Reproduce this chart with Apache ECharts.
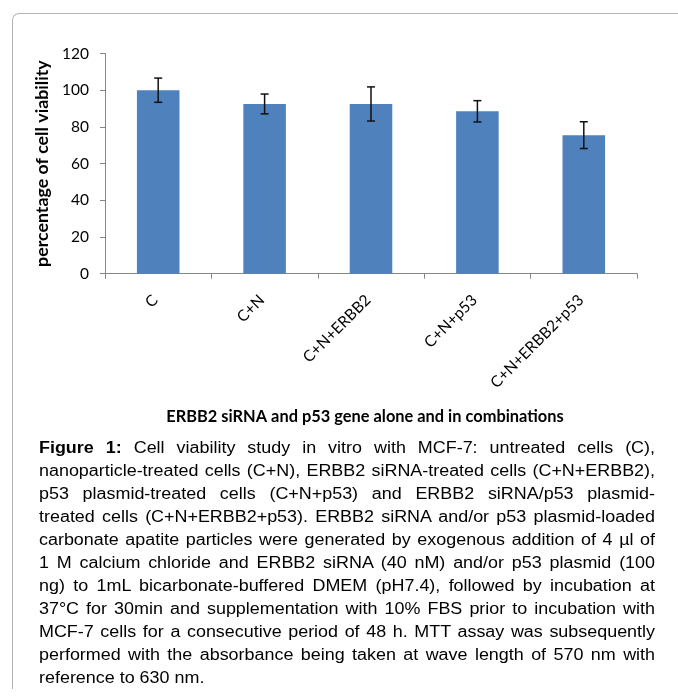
<!DOCTYPE html>
<html><head><meta charset="utf-8">
<script src="https://cdn.jsdelivr.net/npm/echarts@6/dist/echarts.min.js"></script>
<style>
html,body{margin:0;padding:0;background:#fff;}
#wrap{position:relative;width:678px;height:697px;overflow:hidden;}
#chart{position:absolute;left:0;top:0;width:678px;height:697px;}
#frame{position:absolute;left:12px;top:13px;width:700px;height:675px;border-top:1.3px solid #b4b4b4;border-left:1.3px solid #b4b4b4;border-top-left-radius:7px;}
#caption{position:absolute;left:39px;top:436px;width:550px;transform:scaleX(1.12);transform-origin:0 0;font-family:"Liberation Sans",Arial,sans-serif;font-size:16px;line-height:23px;color:#000;}
#caption div{text-align:justify;text-align-last:justify;}
#caption div.last{text-align-last:left;}
</style>
</head><body>
<div id="wrap">
<div id="frame"></div>
<div id="chart"></div>
<div id="caption">
<div><b>Figure 1:</b> Cell viability study in vitro with MCF-7: untreated cells (C),</div>
<div>nanoparticle-treated cells (C+N), ERBB2 siRNA-treated cells (C+N+ERBB2),</div>
<div>p53 plasmid-treated cells (C+N+p53) and ERBB2 siRNA/p53 plasmid-</div>
<div>treated cells (C+N+ERBB2+p53). ERBB2 siRNA and/or p53 plasmid-loaded</div>
<div>carbonate apatite particles were generated by exogenous addition of 4 µl of</div>
<div>1 M calcium chloride and ERBB2 siRNA (40 nM) and/or p53 plasmid (100</div>
<div>ng) to 1mL bicarbonate-buffered DMEM (pH7.4), followed by incubation at</div>
<div>37°C for 30min and supplementation with 10% FBS prior to incubation with</div>
<div>MCF-7 cells for a consecutive period of 48 h. MTT assay was subsequently</div>
<div>performed with the absorbance being taken at wave length of 570 nm with</div>
<div class="last">reference to 630 nm.</div>
</div>
</div>
<script>
const categories = ['C', 'C+N', 'C+N+ERBB2', 'C+N+p53', 'C+N+ERBB2+p53'];
const viability = [100, 92.5, 92.5, 88.5, 75.5];
const errorSD = [6.6, 5.4, 9.3, 5.8, 7.3];
const yMin = 0, yMax = 120, yStep = 20;

const errData = categories.map((c, i) => [i, viability[i] - errorSD[i], viability[i] + errorSD[i]]);

const chart = echarts.init(document.getElementById('chart'), null, {renderer: 'canvas'});
chart.setOption({
  backgroundColor: 'transparent',
  animation: false,
  grid: {left: 105, top: 53.5, width: 532, height: 220.2, containLabel: false, outerBoundsMode: 'none'},
  xAxis: {
    type: 'category',
    data: categories,
    boundaryGap: true,
    axisLine: {lineStyle: {color: '#868686', width: 1}},
    axisTick: {show: true, length: 5, lineStyle: {color: '#868686'}},
    axisLabel: {rotate: 45, margin: 21, fontSize: 15.6, color: '#000', fontFamily: 'Lato', interval: 0, padding: [0, 4, 0, 0]},
    name: 'ERBB2 siRNA and p53 gene alone and in combinations',
    nameLocation: 'middle',
    nameGap: 135,
    nameTextStyle: {fontSize: 16.4, fontWeight: 'bold', color: '#000', fontFamily: 'Lato', padding: [0, 12, 0, 0]}
  },
  yAxis: {
    type: 'value',
    min: yMin, max: yMax, interval: yStep,
    axisLine: {show: true, lineStyle: {color: '#868686', width: 1}},
    axisTick: {show: true, length: 5, lineStyle: {color: '#868686'}},
    splitLine: {show: false},
    axisLabel: {margin: 16, fontSize: 15.5, color: '#000', fontFamily: 'Lato'},
    name: 'percentage of cell viability',
    nameLocation: 'middle',
    nameGap: 48,
    nameTextStyle: {fontSize: 17.8, fontWeight: 'bold', color: '#000', fontFamily: 'Lato'}
  },
  series: [
    {
      type: 'bar',
      data: viability,
      barWidth: '40%',
      itemStyle: {color: '#4F81BD'}
    },
    {
      type: 'custom',
      data: errData,
      z: 10,
      renderItem: function (params, api) {
        const x = api.value(0);
        const top = api.coord([x, api.value(2)]);
        const bot = api.coord([x, api.value(1)]);
        const hw = 4;
        const st = {stroke: '#111', lineWidth: 1.5};
        return {
          type: 'group',
          children: [
            {type: 'line', shape: {x1: top[0], y1: top[1], x2: bot[0], y2: bot[1]}, style: st},
            {type: 'line', shape: {x1: top[0] - hw, y1: top[1], x2: top[0] + hw, y2: top[1]}, style: st},
            {type: 'line', shape: {x1: bot[0] - hw, y1: bot[1], x2: bot[0] + hw, y2: bot[1]}, style: st}
          ]
        };
      }
    }
  ]
});
</script>
</body></html>
